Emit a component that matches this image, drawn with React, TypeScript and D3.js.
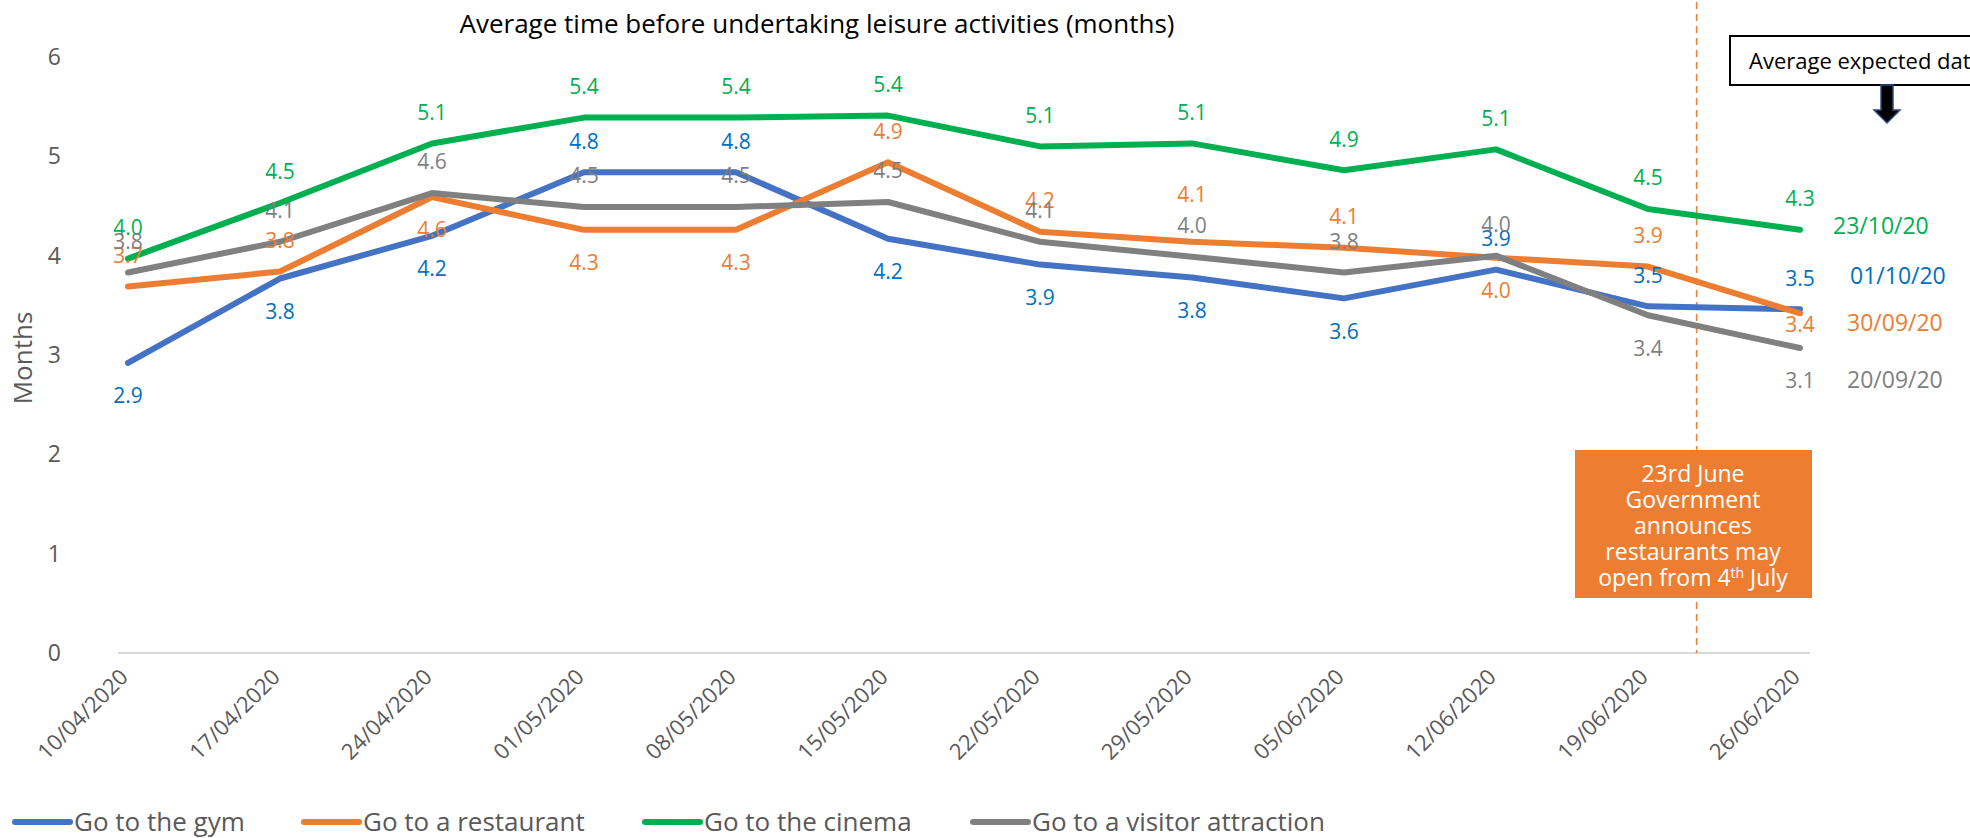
import React from 'react';
import * as d3 from 'd3';

const categories = ['10/04/2020', '17/04/2020', '24/04/2020', '01/05/2020', '08/05/2020', '15/05/2020', '22/05/2020', '29/05/2020', '05/06/2020', '12/06/2020', '19/06/2020', '26/06/2020'];
const gym = [2.92, 3.77, 4.2, 4.84, 4.84, 4.17, 3.91, 3.78, 3.57, 3.86, 3.49, 3.46];
const restaurant = [3.69, 3.84, 4.59, 4.26, 4.26, 4.94, 4.24, 4.14, 4.08, 3.98, 3.89, 3.42];
const cinema = [3.97, 4.53, 5.13, 5.39, 5.39, 5.41, 5.1, 5.13, 4.86, 5.07, 4.47, 4.26];
const visitor = [3.83, 4.14, 4.63, 4.49, 4.49, 4.54, 4.14, 3.99, 3.83, 4.0, 3.4, 3.07];
const seriesNames = ['Go to the gym', 'Go to a restaurant', 'Go to the cinema', 'Go to a visitor attraction'];
const expectedDates = ['01/10/20', '30/09/20', '23/10/20', '20/09/20'];
const yTicks = [0, 1, 2, 3, 4, 5, 6];
// label placement codes: a = above, b = below, A = far above, s = slightly below
const gymPlace = ['b', 'b', 'b', 'a', 'a', 'b', 'b', 'b', 'b', 'a', 'a', 'a'];
const restaurantPlace = ['a', 'a', 'b', 'b', 'b', 'a', 'a', 'A', 'a', 'b', 'a', 's'];
const cinemaPlace = ['a', 'a', 'a', 'a', 'a', 'a', 'a', 'a', 'a', 'a', 'a', 'a'];
const visitorPlace = ['a', 'a', 'a', 'a', 'a', 'a', 'a', 'a', 'a', 'a', 'b', 'b'];
const announcement = ['23rd June', 'Government', 'announces', 'restaurants may'];

const FONT = '"Open Sans", Lato, "Noto Sans", sans-serif';
const lineColors = ['#4472C4', '#ED7D31', '#00B050', '#808080'];
const labelColors = ['#0070C0', '#ED7D31', '#00B050', '#7F7F7F'];
const dateDy = [-33, 10, -4, 32];
const dateDx = [50, 47, 33, 47];
const legendX = [15, 304, 645, 973];
const placeDy: Record<string, number> = { a: -31, b: 33, A: -47, s: 11 };

export default function App() {
  const W = 1970, H = 838;
  const x = d3.scalePoint<string>().domain(categories).range([128, 1800]);
  const y = d3.scaleLinear().domain([0, 6]).range([653, 57]);
  const series = [gym, restaurant, cinema, visitor];
  const places = [gymPlace, restaurantPlace, cinemaPlace, visitorPlace];
  const line = d3.line<number>().x((_, i) => x(categories[i]) as number).y(d => y(d));
  const step = x.step();
  const markerX = (x(categories[10]) as number) + step * 0.32;

  return (
    <svg width={W} height={H} style={{ position: 'absolute', left: 0, top: 0, background: '#fff' }} fontFamily={FONT}>
      <rect x={0} y={0} width={W} height={H} fill="#fff" />
      <text x={817} y={33} textAnchor="middle" fontSize={26} fill="#000">Average time before undertaking leisure activities (months)</text>

      {/* y axis */}
      {yTicks.map(t => (
        <text key={t} x={61} y={y(t)} dy="0.35em" textAnchor="end" fontSize={23} fill="#595959">{t}</text>
      ))}
      <text transform={`translate(23,358) rotate(-90)`} textAnchor="middle" dy="0.35em" fontSize={26} fill="#595959">Months</text>

      {/* x axis */}
      <line x1={118} x2={1810} y1={653} y2={653} stroke="#D9D9D9" strokeWidth={2} />
      {categories.map(c => (
        <text key={c} transform={`translate(${(x(c) as number) - 4},${673}) rotate(-45)`} textAnchor="end" dy="0.35em" fontSize={22} fill="#595959">{c}</text>
      ))}

      {/* event marker */}
      <line x1={markerX} x2={markerX} y1={2} y2={653} stroke="#ED7D31" strokeWidth={1.5} strokeDasharray="7,5" />
      <rect x={1575} y={450} width={237} height={148} fill="#ED7D31" />
      {announcement.map((t, i) => (
        <text key={t} x={1693} y={474 + i * 26} dy="0.35em" textAnchor="middle" fontSize={23} fill="#fff">{t}</text>
      ))}
      <text x={1693} y={578} dy="0.35em" textAnchor="middle" fontSize={23} fill="#fff">
        open from 4<tspan fontSize={14} dy="-8">th</tspan><tspan dy="8"> July</tspan>
      </text>

      {/* lines */}
      {series.map((s, si) => (
        <path key={si} d={line(s) as string} fill="none" stroke={lineColors[si]} strokeWidth={6} strokeLinecap="round" strokeLinejoin="round" />
      ))}

      {/* data labels */}
      {series.map((s, si) => s.map((v, i) => (
        <text key={`${si}-${i}`} x={x(categories[i]) as number} y={y(v) + placeDy[places[si][i]]} dy="0.35em" textAnchor="middle" fontSize={21} fill={labelColors[si]}>{v.toFixed(1)}</text>
      )))}

      {/* expected dates */}
      {series.map((s, si) => (
        <text key={`d${si}`} x={(x(categories[11]) as number) + dateDx[si]} y={y(s[11]) + dateDy[si]} dy="0.35em" fontSize={23} fill={labelColors[si] === '#7F7F7F' ? '#808080' : labelColors[si]}>{expectedDates[si]}</text>
      ))}

      {/* Average expected date box */}
      <rect x={1730} y={36} width={260} height={49} fill="#fff" stroke="#000" strokeWidth={2} />
      <text x={1749} y={61} dy="0.35em" fontSize={22} fill="#000">Average expected date</text>
      <path d="M1881,85 L1893,85 L1893,110 L1900,110 L1887,123 L1874,110 L1881,110 Z" fill="#000" stroke="#2F4A7F" strokeWidth={1.5} />

      {/* legend */}
      {seriesNames.map((n, i) => (
        <g key={n}>
          <line x1={legendX[i]} x2={legendX[i] + 55} y1={822} y2={822} stroke={lineColors[i]} strokeWidth={6} strokeLinecap="round" />
          <text x={legendX[i] + 59} y={822} dy="0.35em" fontSize={26} fill="#595959">{n}</text>
        </g>
      ))}
    </svg>
  );
}
